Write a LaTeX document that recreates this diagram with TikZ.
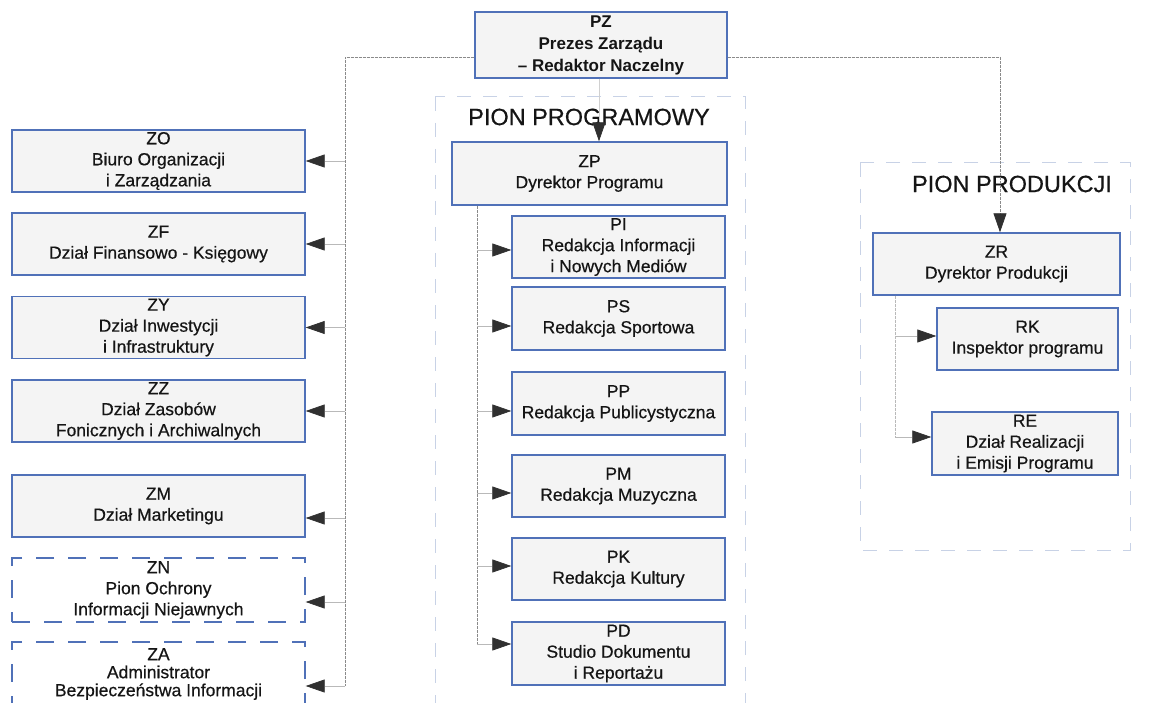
\documentclass[tikz,border=0pt]{standalone}
\usepackage{fontspec}
\setmainfont{Liberation Sans}
\newfontfamily\scanfont{Liberation Sans}[BoldFont={Liberation Sans}, BoldFeatures={FakeBold=0.5}]
\usetikzlibrary{arrows.meta,calc}
\definecolor{boxblue}{HTML}{5071B8}
\definecolor{boxfill}{HTML}{F4F4F4}
\definecolor{framecol}{HTML}{C8D2E6}
\definecolor{txt}{HTML}{151515}
\definecolor{linecol}{HTML}{8A8A8A}
\definecolor{arrowcol}{HTML}{303030}
\tikzset{
  box/.style={draw=boxblue, line width=1.4pt, fill=boxfill, align=center, text=txt,
    font=\scanfont\bfseries\fontsize{17.5}{21}\selectfont, inner sep=1pt},
  dbox/.style={box, fill=white, dash pattern=on 18pt off 14pt},
  frame/.style={draw=framecol, line width=1pt, dash pattern=on 14pt off 12pt},
  trunk/.style={draw=linecol, line width=0.8pt, dash pattern=on 3pt off 1pt},
  tip/.style={-{Triangle[length=19pt,width=13pt,color=arrowcol]}},
  branch/.style={draw=linecol!60, line width=0.7pt, tip},
  pion/.style={text=txt, font=\scanfont\bfseries\fontsize{23.5}{26}\selectfont, inner sep=0pt},
}
\begin{document}
\begin{tikzpicture}[x=1pt,y=-1pt]
\useasboundingbox (0,0) rectangle (1153,703);
\fill[white] (0,0) rectangle (1153,703);
% frames
\draw[frame] (435,97) rectangle (745,715);
\draw[frame] (860,163) rectangle (1130,550);
\node[pion] (PPROG) at (589,117) {PION PROGRAMOWY};
\node[pion] (PPROD) at (1012,184) {PION PRODUKCJI};
% top
\node[box, font=\bfseries\fontsize{17}{22}\selectfont, minimum width=252pt, minimum height=66pt] (PZ) at (601,45) {PZ\\Prezes Zarządu\\– Redaktor Naczelny};
\node[box, minimum width=275pt, minimum height=63pt] (ZP) at (589.5,173.5) {ZP\\Dyrektor Programu};
% left column
\node[box, minimum width=293pt, minimum height=62pt] (ZO) at (158.5,161) {ZO\\Biuro Organizacji\\i Zarządzania};
\node[box, minimum width=293pt, minimum height=62pt] (ZF) at (158.5,244) {ZF\\Dział Finansowo - Księgowy};
\node[box, minimum width=293pt, minimum height=62pt] (ZY) at (158.5,327.5) {ZY\\Dział Inwestycji\\i Infrastruktury};
\node[box, minimum width=293pt, minimum height=62pt] (ZZ) at (158.5,411) {ZZ\\Dział Zasobów\\Fonicznych i Archiwalnych};
\node[box, minimum width=293pt, minimum height=62pt] (ZM) at (158.5,506) {ZM\\Dział Marketingu};
\node[dbox, minimum width=293pt, minimum height=64pt] (ZN) at (158.5,590) {ZN\\Pion Ochrony\\Informacji Niejawnych};
\node[dbox, font=\scanfont\bfseries\fontsize{17.5}{18}\selectfont, minimum width=293pt, minimum height=64pt] (ZA) at (158.5,674) {ZA\\Administrator\\Bezpieczeństwa Informacji};
% middle column
\node[box, minimum width=213pt, minimum height=62pt] (PI) at (618.5,247) {PI\\Redakcja Informacji\\i Nowych Mediów};
\node[box, minimum width=213pt, minimum height=63pt] (PS) at (618.5,318.5) {PS\\Redakcja Sportowa};
\node[box, minimum width=213pt, minimum height=63pt] (PP) at (618.5,403.5) {PP\\Redakcja Publicystyczna};
\node[box, minimum width=213pt, minimum height=62pt] (PM) at (618.5,486) {PM\\Redakcja Muzyczna};
\node[box, minimum width=213pt, minimum height=62pt] (PK) at (618.5,569) {PK\\Redakcja Kultury};
\node[box, minimum width=213pt, minimum height=63pt] (PD) at (618.5,653.5) {PD\\Studio Dokumentu\\i Reportażu};
% right column
\node[box, minimum width=247pt, minimum height=62pt] (ZR) at (996.5,264) {ZR\\Dyrektor Produkcji};
\node[box, minimum width=181pt, minimum height=62pt] (RK) at (1027.5,339) {RK\\Inspektor programu};
\node[box, minimum width=186pt, minimum height=63pt] (RE) at (1025,443.5) {RE\\Dział Realizacji\\i Emisji Programu};
% connectors from PZ
\coordinate (LT) at (345,57);
\coordinate (RT) at (1000,57);
\draw[branch, draw=linecol!40] ([xshift=-2pt]PZ.south) -- ([xshift=-2pt]PZ.south |- ZP.north);
\path ([yshift=-12pt]ZA.east) coordinate (za);
\draw[trunk] (PZ.west |- LT) -- (LT) -- (LT |- za);
\draw[trunk] (PZ.east |- RT) -- (RT);
\draw[trunk, tip] (RT) -- (RT |- ZR.north);
% left branches
\path ([yshift=-12pt]ZM.east) coordinate (zm);
\path ([yshift=-12pt]ZN.east) coordinate (zn);
\foreach \n in {ZO,ZF,ZY,ZZ}{\draw[branch] (LT |- \n.east) -- (\n.east);}
\draw[branch] (LT |- zm) -- (zm);
\draw[branch] (LT |- zn) -- (zn);
\draw[branch] (LT |- za) -- (za);
% middle trunk
\path ([xshift=-112.5pt]ZP.south) coordinate (MT);
\path ([yshift=-3pt]PI.west) coordinate (pi);
\path ([yshift=-7.5pt]PS.west) coordinate (ps);
\path ([yshift=-7.5pt]PP.west) coordinate (pp);
\path ([yshift=-7pt]PM.west) coordinate (pm);
\path ([yshift=3pt]PK.west) coordinate (pk);
\path ([yshift=9.5pt]PD.west) coordinate (pd);
\draw[trunk] (MT) -- (MT |- pd);
\foreach \c in {pi,ps,pp,pm,pk,pd}{\draw[branch] (MT |- \c) -- (\c);}
% right trunk
\path ([xshift=-101.5pt]ZR.south) coordinate (RT2);
\path ([yshift=3pt]RK.west) coordinate (rk);
\path ([yshift=6.5pt]RE.west) coordinate (re);
\draw[trunk, draw=linecol!60] (RT2) -- (RT2 |- re);
\draw[branch] (RT2 |- rk) -- (rk);
\draw[branch] (RT2 |- re) -- (re);
\end{tikzpicture}
\end{document}
